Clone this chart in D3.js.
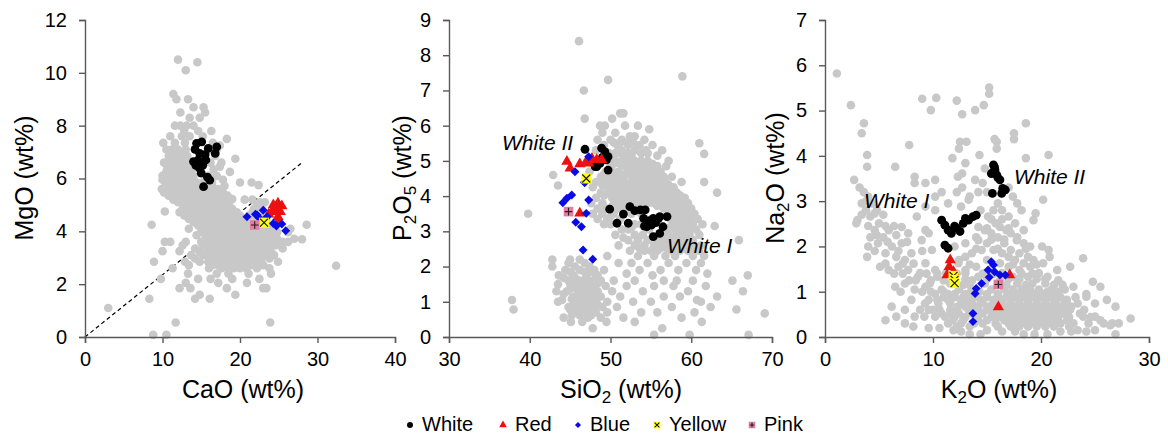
<!DOCTYPE html>
<html>
<head>
<meta charset="utf-8">
<script src="https://d3js.org/d3.v7.min.js"></script>
<style>
  body { margin: 0; background: #fff; }
  svg { display: block; font-family: "Liberation Sans", Arial, sans-serif; }
  .axis path, .axis line { stroke: #595959; stroke-width: 1.4; }
  .axis text { font-size: 20px; fill: #000; font-family: "Liberation Sans", Arial, sans-serif; }
  .title { font-size: 25px; fill: #000; }
  .lbl { font-size: 21px; font-style: italic; fill: #000; }
  .leg { font-size: 20px; fill: #000; }
</style>
</head>
<body>
<svg width="1168" height="439"></svg>
<script>
// ---- data ----
// grey background rows: [y, x1, x2, ...]
var greyCaMg = [
  [10.5, 12.0], [10.4, 14.5], [10.1, 13.0], [9.2, 11.4], [9.0, 11.8, 13.3],
  [8.7, 15.3, 14.0], [8.5, 12.3, 15.5], [8.3, 13.5, 14.8], [8.0, 11.6, 12.3, 13.1, 14.0],
  [7.8, 12.8, 14.6, 16.3], [7.6, 11.0, 12.5, 13.5, 15.2], [7.5, 18.3],
  [7.35, 10.1, 11.6, 12.9, 16.5], [7.25, 17.4], [7.1, 10.5, 11.2, 12.0, 13.0, 16.0, 17.0],
  [6.95, 11.2, 12.0, 12.8],
  [6.85, 10.8, 11.6, 12.4, 13.2, 16.8], [6.75, 19.4], [6.6, 10.2, 11.0, 11.8, 12.6, 13.4, 16.2, 17.6],
  [6.5, 10.6, 11.4, 12.2, 13.0],
  [6.45, 17.4], [6.35, 10.6, 11.4, 12.2, 13.0, 13.8, 16.6], [6.25, 18.7],
  [6.2, 10.4, 11.2, 12.0, 12.8, 13.6],
  [6.1, 10.0, 10.8, 11.6, 12.4, 13.2, 14.0, 16.0, 17.0],
  [5.95, 10.0, 11.6, 13.2, 14.0, 17.8],
  [5.85, 10.4, 11.2, 12.0, 12.8, 13.6, 14.4, 15.2, 16.4, 20.0, 21.5], [5.75, 22.4],
  [5.72, 10.4, 11.4, 12.2, 13.0, 13.8, 14.6, 16.4, 18.0],
  [5.6, 9.9, 11.0, 11.8, 12.6, 13.4, 14.2, 15.0, 15.8, 17.2],
  [5.47, 10.2, 11.2, 12.0, 12.8, 13.6, 14.4, 15.2, 16.0, 16.8, 17.8],
  [5.35, 10.8, 11.6, 12.4, 13.2, 14.0, 14.8, 15.6, 16.4, 17.4, 18.4], [5.2, 11.4, 20.6, 21.6],
  [5.22, 11.8, 12.6, 13.4, 14.2, 15.0, 15.8, 16.6, 17.2, 18.2, 19.0],
  [5.1, 12.0, 12.8, 13.6, 14.4, 15.2, 16.0, 16.8, 17.6, 22.6, 23.2],
  [4.97, 13.0, 13.8, 14.6, 15.4, 16.2, 17.0, 17.8, 18.6, 22.2],
  [4.85, 12.6, 13.4, 14.2, 15.0, 15.8, 16.6, 17.4, 18.2, 19.0, 21.8, 22.8], [4.75, 10.3],
  [4.72, 12.2, 14.0, 14.8, 15.6, 16.4, 17.2, 18.0, 18.8, 19.6, 21.6],
  [4.6, 12.8, 13.6, 14.4, 15.2, 16.0, 16.8, 17.6, 18.4, 19.2, 20.0, 21.2, 22.6],
  [4.47, 13.4, 14.4, 15.2, 16.0, 16.8, 17.6, 18.4, 19.2, 20.0, 20.8, 21.6, 22.6, 23.4],
  [4.35, 14.0, 14.8, 15.6, 16.4, 17.2, 18.0, 18.8, 19.6, 20.4, 21.2, 22.0, 25.0],
  [4.25, 8.6, 28.6],
  [4.22, 14.6, 15.4, 16.2, 17.0, 17.8, 18.6, 19.4, 20.2, 21.0, 21.8, 22.6, 23.4, 24.2],
  [4.1, 13.4, 15.0, 15.8, 16.6, 17.4, 18.2, 19.0, 19.8, 20.6, 21.4, 22.2, 23.0, 23.8, 26.5],
  [3.97, 15.0, 16.0, 16.8, 17.6, 18.4, 19.2, 20.0, 20.8, 21.6, 22.4, 23.2, 24.0, 24.8, 26.2],
  [3.85, 14.4, 15.6, 16.4, 17.2, 18.0, 18.8, 19.6, 20.4, 21.2, 22.0, 22.8, 23.6, 24.4],
  [3.72, 15.6, 16.6, 17.4, 18.2, 19.0, 19.8, 20.6, 21.4, 22.2, 23.0, 23.8, 24.8, 27.0],
  [3.7, 28.0],
  [3.6, 10.3, 11.0, 13.0, 15.0, 16.2, 17.0, 17.8, 18.6, 19.4, 20.2, 21.0, 21.8, 22.6, 23.4, 24.2, 25.5, 26.2],
  [3.47, 12.6, 15.2, 16.2, 17.0, 17.8, 18.6, 19.4, 20.2, 21.0, 21.8, 22.6, 23.4, 24.6],
  [3.35, 14.2, 15.8, 16.6, 17.4, 18.2, 19.0, 19.8, 20.6, 21.4, 22.2, 23.0, 23.8, 25.5],
  [3.25, 10.0, 12.2],
  [3.22, 14.8, 15.8, 16.6, 17.4, 18.2, 19.0, 19.8, 20.6, 21.4, 22.2, 23.0, 24.0],
  [3.1, 13.7, 15.2, 16.2, 17.0, 17.8, 18.6, 19.4, 20.2, 21.0, 21.8, 22.6, 23.4, 24.4],
  [2.97, 14.2, 16.0, 16.8, 17.6, 18.4, 19.2, 20.0, 20.8, 21.6, 22.8, 23.8],
  [2.85, 8.9, 12.9, 14.8, 15.9, 16.5, 17.4, 18.2, 19.0, 19.8, 20.6, 21.4, 22.2, 24.9],
  [2.72, 13.4, 16.4, 17.2, 18.0, 18.8, 19.6, 20.4, 21.4, 23.0],
  [2.7, 32.4], [2.6, 11.3, 16.0, 17.6, 18.4, 19.2, 20.0, 20.8, 22.2, 23.8],
  [2.4, 13.3, 17.0, 18.5, 21.1, 24.0], [2.2, 9.8, 14.6, 16.2, 19.0, 22.5],
  [2.05, 13.0, 17.2, 20.9], [1.85, 12.2, 13.6, 18.3, 23.0, 23.4], [1.6, 14.8, 19.4],
  [1.45, 8.3, 14.2, 16.1], [1.1, 3.0], [0.55, 11.7, 23.9], [0.08, 8.8, 10.5]
];
var greySiP = [
  [8.4, 46.1], [7.4, 58.9], [7.3, 49.7], [7.0, 46.7], [6.35, 51.2, 51.6], [6.2, 46.8, 50.2],
  [6.0, 48.7, 49.3, 51.8, 53.4], [5.9, 54.8], [5.8, 49.0, 50.6], [5.7, 52.4, 53.0],
  [5.6, 48.4, 50.0, 51.4, 54.2], [5.52, 50.4, 51.2, 52.0, 52.8], [5.5, 61.0],
  [5.45, 49.2, 50.8, 52.2, 53.6, 55.2],
  [5.3, 48.2, 51.4, 53.0, 54.4, 56.4], [5.22, 49.8, 50.6, 51.2, 52.2, 53.8, 54.6],
  [5.2, 61.6], [5.15, 50.2, 51.8, 52.6, 55.8],
  [5.0, 47.6, 50.6, 51.4, 52.2, 53.0, 53.8, 54.6, 57.2],
  [4.92, 50.4, 51.2, 52.0, 52.8, 53.6, 54.4, 55.2],
  [4.85, 50.0, 51.8, 52.6, 53.4, 54.2, 55.0, 55.8, 56.9],
  [4.7, 47.4, 49.4, 50.2, 51.0, 52.2, 53.0, 53.8, 54.6, 55.4, 56.2],
  [4.62, 49.2, 50.0, 50.8, 51.8, 52.8, 53.6, 54.4, 55.2, 56.0], [4.6, 42.9],
  [4.55, 48.8, 49.8, 50.6, 51.4, 52.6, 53.4, 54.2, 55.0, 55.8, 56.6, 57.6],
  [4.4, 48.2, 49.2, 50.0, 51.0, 51.8, 52.8, 53.6, 54.4, 55.2, 56.0, 56.8, 58.8, 61.6],
  [4.32, 49.0, 49.8, 50.6, 51.4, 52.4, 53.2, 54.0, 54.8, 55.6, 56.4, 57.2], [4.3, 43.5],
  [4.25, 47.8, 49.6, 50.4, 51.2, 52.2, 53.0, 53.8, 54.6, 55.4, 56.2, 57.0, 57.8],
  [4.1, 48.8, 49.8, 50.8, 51.6, 52.4, 53.2, 54.0, 54.8, 55.6, 56.4, 57.2, 58.2, 63.2],
  [4.02, 49.2, 50.6, 51.4, 52.2, 53.0, 53.8, 54.6, 55.4, 56.2, 57.0, 57.8, 58.6],
  [3.95, 48.2, 50.2, 51.0, 51.8, 52.6, 53.4, 54.2, 55.0, 55.8, 56.6, 57.4, 58.4, 59.2],
  [3.8, 47.6, 49.0, 50.6, 51.4, 52.2, 53.0, 53.8, 54.6, 55.4, 56.2, 57.0, 57.8, 58.6, 59.6],
  [3.72, 50.2, 55.8, 56.8, 57.6, 58.4, 59.2],
  [3.65, 48.4, 49.4, 51.0, 51.8, 56.6, 57.4, 58.2, 59.0, 60.0],
  [3.5, 39.8, 47.8, 49.0, 50.4, 52.6, 53.8, 57.8, 58.6, 59.4, 60.4],
  [3.42, 50.0, 57.0, 58.0, 58.8, 59.6],
  [3.35, 48.4, 49.6, 51.2, 57.4, 58.2, 59.0, 59.8, 60.8],
  [3.2, 49.2, 50.0, 53.0, 53.8, 57.8, 58.6, 59.4, 60.2, 61.4], [3.15, 62.9],
  [3.12, 52.6, 57.4, 58.4, 59.2, 60.0],
  [3.05, 51.4, 52.2, 54.8, 57.0, 58.0, 58.8, 59.6, 60.6],
  [2.9, 50.6, 53.0, 54.0, 57.2, 58.2, 59.0, 59.8, 61.0],
  [2.82, 51.6, 55.2, 56.0, 56.8, 57.8, 58.8, 59.6],
  [2.75, 52.2, 53.4, 54.6, 55.6, 56.4, 57.4, 58.4, 59.2, 60.2, 65.9],
  [2.6, 51.0, 53.0, 54.2, 55.4, 56.2, 57.0, 58.0, 59.0, 60.0, 61.2],
  [2.52, 53.6, 56.2, 57.0, 58.0, 59.0, 60.4],
  [2.45, 52.4, 54.2, 55.0, 55.8, 57.6, 58.6, 59.6, 61.0],
  [2.3, 49.6, 53.4, 55.4, 56.8, 58.0, 60.2, 61.6], [2.2, 42.8, 45.0, 46.2],
  [2.1, 44.8, 46.8, 51.0, 52.6, 54.6, 57.2, 59.4, 61.2], [2.0, 42.8, 45.6, 47.4],
  [1.9, 44.4, 46.2, 48.0, 49.2, 53.6, 56.2, 58.4, 60.6], [1.85, 45.0, 46.8, 47.6],
  [1.8, 47.0, 52.0, 62.0],
  [1.75, 43.6, 45.4, 48.4, 55.2, 67.0], [1.68, 44.2, 45.6, 47.0, 48.2],
  [1.6, 44.8, 46.2, 47.4, 48.8, 50.4, 53.0, 56.6, 58.2, 60.2, 65.1],
  [1.52, 45.0, 46.4, 47.2, 48.4], [1.5, 43.5],
  [1.45, 45.6, 46.8, 47.8, 49.4, 52.0, 55.4, 57.8, 61.8], [1.38, 45.0, 45.8, 47.0, 47.8],
  [1.3, 43.3, 44.6, 46.2, 47.2, 48.4, 50.2, 54.0, 59.6, 66.4], [1.22, 44.2, 46.0, 47.2, 48.0],
  [1.15, 45.4, 46.6, 47.6, 48.8, 51.2, 56.6, 58.6, 63.2], [1.08, 45.2, 46.4, 47.6],
  [1.05, 37.8, 44.0, 60.7],
  [1.0, 43.5, 45.8, 47.0, 48.2, 49.6, 52.8, 55.0, 61.2], [0.92, 45.4, 46.0, 47.0, 48.4],
  [0.85, 44.8, 46.4, 47.6, 49.0, 50.8, 57.6, 62.4], [0.78, 38.0, 45.0, 46.2, 47.2, 65.6],
  [0.7, 45.6, 46.8, 48.2, 49.6, 53.8, 55.8, 60.4], [0.67, 69.1], [0.62, 45.2, 46.2, 47.6],
  [0.55, 44.2, 47.2, 48.8, 51.6, 58.8], [0.43, 45.1, 46.5, 49.5, 53.0, 61.3],
  [0.25, 47.8, 56.4], [0.06, 55.4, 59.8, 67.1]
];
var greyKNa = [
  [5.82, 1.1], [5.51, 15.2], [5.37, 15.2], [5.28, 10.3], [5.26, 9.0], [5.22, 12.2],
  [5.12, 2.4, 14.7], [5.01, 9.8, 13.9], [4.92, 12.7], [4.72, 3.6, 18.6], [4.5, 3.4, 17.5],
  [4.37, 15.7, 17.5], [4.31, 12.5, 13.1, 15.9], [4.24, 7.8], [4.16, 12.4, 15.9],
  [4.02, 3.9, 14.3, 20.7], [3.95, 11.8, 18.6], [3.84, 13.0], [3.76, 3.9, 6.5], [3.72, 14.8],
  [3.61, 12.7], [3.54, 8.3, 12.3], [3.47, 2.7, 10.2, 13.9], [3.4, 8.3, 9.3, 14.6],
  [3.3, 3.2, 12.7, 17.0], [3.2, 3.6, 10.8, 12.2, 14.2, 15.0], [3.1, 4.0, 10.2, 13.4, 17.4],
  [3.03, 13.3, 20.2], [3.0, 3.8], [2.95, 3.4, 4.4, 11.4, 16.0, 17.8], [2.88, 9.3, 12.6],
  [2.8, 3.8, 4.8, 10.2, 14.4, 15.6, 16.4, 18.2], [2.73, 4.6, 19.5], [2.7, 3.4, 5.4],
  [2.66, 4.2, 8.5, 15.1, 17.0], [2.6, 15.4, 16.4],
  [2.58, 3.0, 19.3], [2.51, 2.9, 5.0, 15.8, 17.6], [2.45, 4.0, 5.6, 6.4], [2.43, 7.1, 14.2, 16.2],
  [2.4, 15.0, 17.0],
  [2.36, 4.6, 5.9, 9.3, 14.8, 16.8, 18.4], [2.29, 7.7, 9.6, 15.4, 17.2], [2.25, 4.8, 6.6],
  [2.2, 4.2, 5.4, 14.0, 16.0, 17.8], [2.15, 15.4, 16.6], [2.14, 8.95, 14.2, 17.75], [2.1, 5.8, 7.6],
  [2.07, 4.9, 7.1, 13.0, 15.0, 16.6, 18.4], [2.0, 4.0, 6.2, 12.0, 19.0, 20.1],
  [1.95, 14.0, 16.0, 18.6],
  [1.92, 9.9, 14.5, 15.6, 17.2, 20.7], [1.9, 4.6, 6.8, 9.0], [1.85, 5.6, 8.0, 13.6, 16.4, 18.0],
  [1.77, 3.9, 6.6, 13.0, 17.0, 18.8, 20.8], [1.74, 23.9], [1.7, 7.4, 12.4, 15.0, 17.6, 19.3],
  [1.63, 9.3, 12.35, 16.2, 18.4, 20.2], [1.62, 5.6, 7.2, 8.2], [1.6, 13.4, 17.4, 19.6],
  [1.55, 5.1, 6.8, 14.0, 17.0, 19.0, 22.7],
  [1.48, 5.9, 7.7, 10.2, 13.0, 18.0, 21.5], [1.41, 8.8, 11.2, 13.0, 16.4, 19.8],
  [1.4, 6.4, 7.2, 9.4, 10.4, 12.2, 14.6, 15.6, 18.2, 19.2],
  [1.33, 8.6, 10.4, 14.2, 17.4, 18.8, 20.6], [1.28, 13.0, 15.0, 17.0, 18.0, 19.6, 20.4],
  [1.25, 7.8, 8.4, 9.8, 11.0, 13.6, 16.2, 21.6], [1.22, 24.8],
  [1.18, 7.4, 9.7, 11.6, 14.8, 17.8, 19.2, 20.4], [1.15, 12.8, 13.4, 16.0, 16.8, 18.6, 21.2, 22.0],
  [1.11, 6.5, 9.3, 23.0, 25.5],
  [1.05, 8.3, 10.8, 12.4, 15.4, 16.6, 17.4, 18.2, 19.0, 19.8, 21.0, 22.2],
  [1.0, 7.0, 9.0, 9.8, 11.0, 13.5, 14.3, 20.6, 21.6],
  [0.95, 10.2, 11.4, 12.0, 13.0, 15.0, 16.0, 17.0, 17.8, 18.6, 19.4, 20.2, 21.2, 24.2],
  [0.89, 24.2],
  [0.88, 11.0, 12.0, 12.8, 13.8, 15.0, 16.0, 16.8, 17.6, 18.4, 19.2, 20.0, 20.8, 21.8, 23.2],
  [0.82, 8.0, 9.6, 10.4, 11.4, 12.6, 13.2, 14.4, 15.6, 16.4, 17.2, 18.0, 18.8, 19.6, 20.4, 21.4, 22.4, 26.1],
  [0.74, 9.26, 10.5, 11.6, 12.8, 13.6, 14.6, 15.6, 16.4, 17.2, 18.0, 18.8, 19.6, 20.4, 21.2, 22.2, 23.4, 25.0],
  [0.67, 6.17, 12.3, 13.0, 14.0, 15.2, 16.8, 17.6, 18.4, 19.2, 20.0, 20.8, 21.8, 22.8, 26.9],
  [0.6, 7.4, 8.8, 9.6, 10.0, 10.6, 11.6, 12.2, 13.3, 14.2, 15.0, 15.8, 16.6, 17.4, 18.2, 19.0, 19.8, 20.6, 21.4, 22.2, 22.7, 24.0],
  [0.52, 10.8, 11.6, 12.4, 13.6, 14.6, 15.6, 16.2, 17.0, 17.8, 18.6, 19.4, 20.2, 21.0, 22.0, 23.6],
  [0.45, 6.6, 8.3, 9.2, 10.2, 11.1, 23.9, 25.0],
  [0.44, 12.0, 13.0, 14.0, 15.4, 16.0, 16.8, 17.6, 18.4, 19.2, 20.0, 20.8, 21.6, 22.6, 24.6],
  [0.41, 28.3],
  [0.37, 5.6, 11.8, 12.8, 14.2, 15.0, 16.6, 17.4, 18.2, 19.0, 19.8, 20.6, 21.4, 22.4, 25.5],
  [0.3, 7.4, 11.4, 12.6, 13.8, 14.6, 15.8, 17.0, 17.8, 18.6, 19.4, 20.2, 21.0, 21.8, 23.0, 24.4, 25.8, 26.6, 27.2],
  [0.26, 26.4],
  [0.23, 8.18, 12.2, 13.4, 16.0, 17.2, 18.0, 18.8, 19.6, 20.4, 21.2, 22.6],
  [0.2, 9.6, 10.6],
  [0.15, 11.9, 15.0, 23.4, 25.0], [0.12, 12.6, 16.4, 17.6, 21.8, 22.8, 24.2],
  [0.06, 13.4, 14.4, 18.4, 19.4, 20.6, 26.9]
];

// coloured samples [x, y]
var whiteCaMg = [[14.4,7.33],[15.06,7.39],[15.9,7.14],[17.0,7.2],[16.8,6.95],[14.0,6.64],[14.6,6.7],[14.8,6.38],[15.2,6.5],[15.6,6.7],[16.1,5.94],[15.3,5.69],[14.8,6.95],[14.2,7.1],[15.0,6.2],[15.5,6.9],[14.3,6.5],[15.8,6.05]];
var redCaMg = [[24.3,5.0],[24.9,5.06],[25.4,4.96],[24.5,4.8],[25.2,4.74],[24.9,4.55],[24.1,4.74],[23.7,4.65],[24.6,4.9],[25.0,4.4]];
var blueCaMg = [[20.9,4.55],[22.0,4.65],[22.5,4.5],[23.0,4.8],[23.5,4.55],[24.3,4.3],[24.7,4.2],[25.4,4.28],[25.9,4.02],[22.2,4.62]];
var yellowCaMg = [[23.1,4.33]];
var pinkCaMg = [[21.9,4.24]];

var whiteSiP = [[46.84,5.33],[48.9,5.36],[49.3,5.26],[49.5,5.03],[48.7,4.93],[48.1,4.84],[49.7,5.12],[49.7,4.74],[48.3,4.84],[49.0,5.1],
  [49.9,3.63],[51.6,3.49],[52.4,3.7],[53.0,3.59],[53.7,3.61],[54.3,3.61],[50.8,3.23],[52.2,3.23],[54.1,3.37],[54.7,3.23],[55.3,3.37],[56.1,3.42],[57.0,3.42],[56.5,3.13],[56.1,2.94],[55.3,2.85],[54.5,3.13],[55.1,3.18],[54.8,3.3],[55.6,3.25],[55.9,3.35],[54.2,3.15]];
var redSiP = [[44.6,4.98],[45.0,4.79],[46.2,4.91],[47.0,4.98],[47.7,5.07],[48.3,5.03],[48.9,5.03],[46.2,3.51],[47.3,4.93]];
var blueSiP = [[47.3,5.12],[45.6,4.69],[46.8,4.38],[45.2,4.03],[44.6,3.94],[44.1,3.81],[47.3,3.89],[47.0,3.51],[45.7,3.26],[46.4,3.13],[46.6,2.47],[47.8,2.21],[46.8,4.4]];
var yellowSiP = [[47.0,4.5]];
var pinkSiP = [[44.8,3.56]];

var whiteKNa = [[15.6,3.8],[15.74,3.69],[15.4,3.61],[15.9,3.58],[16.2,3.47],[16.45,3.28],[16.7,3.25],[16.36,3.17],[15.5,3.17],[15.7,3.75],[16.0,3.52],
  [10.8,2.58],[11.1,2.47],[11.4,2.36],[11.7,2.29],[12.2,2.4],[12.5,2.33],[12.8,2.51],[13.3,2.58],[13.7,2.66],[14.0,2.69],[11.1,2.03],[11.4,1.96],[12.0,2.45],[13.0,2.62]];
var redKNa = [[11.6,1.7],[11.5,1.55],[11.3,1.37],[11.9,1.44],[17.1,1.37],[16.05,0.66]];
var blueKNa = [[15.4,1.66],[15.6,1.59],[15.1,1.48],[15.7,1.44],[16.2,1.37],[16.7,1.37],[15.2,1.32],[14.5,1.18],[14.0,1.07],[13.9,0.96],[13.7,0.52],[13.7,0.34]];
var yellowKNa = [[11.9,1.35],[12.0,1.26],[12.0,1.19]];
var pinkKNa = [[16.05,1.16]];

var legendNames = ["White", "Red", "Blue", "Yellow", "Pink"];

// ---- drawing ----
var svg = d3.select("svg");
var GREY = "#c8c8c8", RED = "#ec1111", BLUE = "#0a0ae6", YEL = "#ffff1a", PINK = "#e67aa2";

function rowsToPts(rows) {
  var out = [];
  rows.forEach(function(r) { for (var i = 1; i < r.length; i++) out.push([r[i], r[0]]); });
  return out;
}

function marker(g, kind, px, py, s) {
  s = s || 1;
  if (kind === "white") {
    g.append("circle").attr("cx", px).attr("cy", py).attr("r", 4.4 * s).attr("fill", "#000");
  } else if (kind === "red") {
    g.append("path").attr("transform", "translate(" + px + "," + py + ")")
      .attr("d", d3.symbol(d3.symbolTriangle, 55 * s * s)()).attr("fill", RED);
  } else if (kind === "blue") {
    g.append("path").attr("transform", "translate(" + px + "," + py + ") rotate(45)")
      .attr("d", d3.symbol(d3.symbolSquare, 40 * s * s)()).attr("fill", BLUE);
  } else if (kind === "yellow") {
    var h = 5 * s;
    g.append("rect").attr("x", px - h).attr("y", py - h).attr("width", 2 * h).attr("height", 2 * h).attr("fill", YEL);
    g.append("path").attr("d", "M" + (px - h + 1) + "," + (py - h + 1) + "L" + (px + h - 1) + "," + (py + h - 1) +
      "M" + (px - h + 1) + "," + (py + h - 1) + "L" + (px + h - 1) + "," + (py - h + 1))
      .attr("stroke", "#111").attr("stroke-width", 1.1);
  } else if (kind === "pink") {
    var q = 4.8 * s;
    g.append("rect").attr("x", px - q).attr("y", py - q).attr("width", 2 * q).attr("height", 2 * q).attr("fill", PINK);
    g.append("path").attr("d", "M" + (px - q + 1) + "," + py + "L" + (px + q - 1) + "," + py +
      "M" + px + "," + (py - q + 1) + "L" + px + "," + (py + q - 1))
      .attr("stroke", "#222").attr("stroke-width", 1.1);
  }
}

// parts starting with "_" are subscripts
function titleText(sel, parts) {
  var lowered = false;
  parts.forEach(function(p) {
    var t = sel.append("tspan");
    if (p.charAt(0) === "_") {
      t.attr("font-size", "17px").attr("dy", 5).text(p.slice(1));
      lowered = true;
    } else {
      if (lowered) { t.attr("dy", -5); lowered = false; }
      t.text(p);
    }
  });
}

var panels = [
  { x: [0, 40], xr: [85, 395], y: [0, 12], xt: d3.range(0, 41, 10), yt: d3.range(0, 13, 2),
    grey: greyCaMg, white: whiteCaMg, red: redCaMg, blue: blueCaMg, yellow: yellowCaMg, pink: pinkCaMg,
    xTitle: ["CaO (wt%)"], xTitleX: 243, yTitle: ["MgO (wt%)"], yTitleX: 33, dash: [[0, 0], [28, 6.6]] },
  { x: [30, 70], xr: [449, 772], y: [0, 9], xt: d3.range(30, 71, 10), yt: d3.range(0, 10, 1),
    grey: greySiP, white: whiteSiP, red: redSiP, blue: blueSiP, yellow: yellowSiP, pink: pinkSiP,
    xTitle: ["SiO", "_2", " (wt%)"], xTitleX: 621,
    yTitle: ["P", "_2", "O", "_5", " (wt%)"], yTitleX: 411,
    labels: [["White II", 502, 150], ["White I", 667, 253]] },
  { x: [0, 30], xr: [825, 1149], y: [0, 7], xt: d3.range(0, 31, 10), yt: d3.range(0, 8, 1),
    grey: greyKNa, white: whiteKNa, red: redKNa, blue: blueKNa, yellow: yellowKNa, pink: pinkKNa,
    xTitle: ["K", "_2", "O (wt%)"], xTitleX: 999,
    yTitle: ["Na", "_2", "O (wt%)"], yTitleX: 784,
    labels: [["White I", 864, 208], ["White II", 1014, 184]] }
];

panels.forEach(function(p) {
  var sx = d3.scaleLinear().domain(p.x).range(p.xr);
  var sy = d3.scaleLinear().domain(p.y).range([337, 20]);
  var g = svg.append("g");

  if (p.dash) {
    g.append("line").attr("x1", sx(p.dash[0][0])).attr("y1", sy(p.dash[0][1]))
      .attr("x2", sx(p.dash[1][0])).attr("y2", sy(p.dash[1][1]))
      .attr("stroke", "#000").attr("stroke-width", 1.2).attr("stroke-dasharray", "4,3");
  }

  g.selectAll(".grey").data(rowsToPts(p.grey)).enter().append("circle")
    .attr("cx", function(d) { return sx(d[0]); }).attr("cy", function(d) { return sy(d[1]); })
    .attr("r", 4.3).attr("fill", GREY);

  ["white", "red", "blue", "yellow", "pink"].forEach(function(k) {
    p[k].forEach(function(d) { marker(g, k, sx(d[0]), sy(d[1])); });
  });

  g.append("g").attr("class", "axis").attr("transform", "translate(0,337)")
    .call(d3.axisBottom(sx).tickValues(p.xt).tickFormat(d3.format("d")).tickSizeOuter(0).tickSize(6).tickPadding(9));
  g.append("g").attr("class", "axis").attr("transform", "translate(" + p.xr[0] + ",0)")
    .call(d3.axisLeft(sy).tickValues(p.yt).tickFormat(d3.format("d")).tickSizeOuter(0).tickSize(6).tickPadding(12));

  var xt = g.append("text").attr("class", "title").attr("x", p.xTitleX).attr("y", 398).attr("text-anchor", "middle");
  titleText(xt, p.xTitle);
  var yt = g.append("text").attr("class", "title").attr("text-anchor", "middle")
    .attr("transform", "translate(" + p.yTitleX + ",178) rotate(-90)");
  titleText(yt, p.yTitle);

  (p.labels || []).forEach(function(l) {
    g.append("text").attr("class", "lbl").attr("x", l[1]).attr("y", l[2]).text(l[0]);
  });
});

// legend
var legX = [410, 503, 578, 657, 752];
var leg = svg.append("g");
legendNames.forEach(function(n, i) {
  var k = n.toLowerCase();
  marker(leg, k, legX[i], 425, 0.68);
  leg.append("text").attr("class", "leg").attr("x", legX[i] + 12).attr("y", 431).text(n);
});
</script>
</body>
</html>
